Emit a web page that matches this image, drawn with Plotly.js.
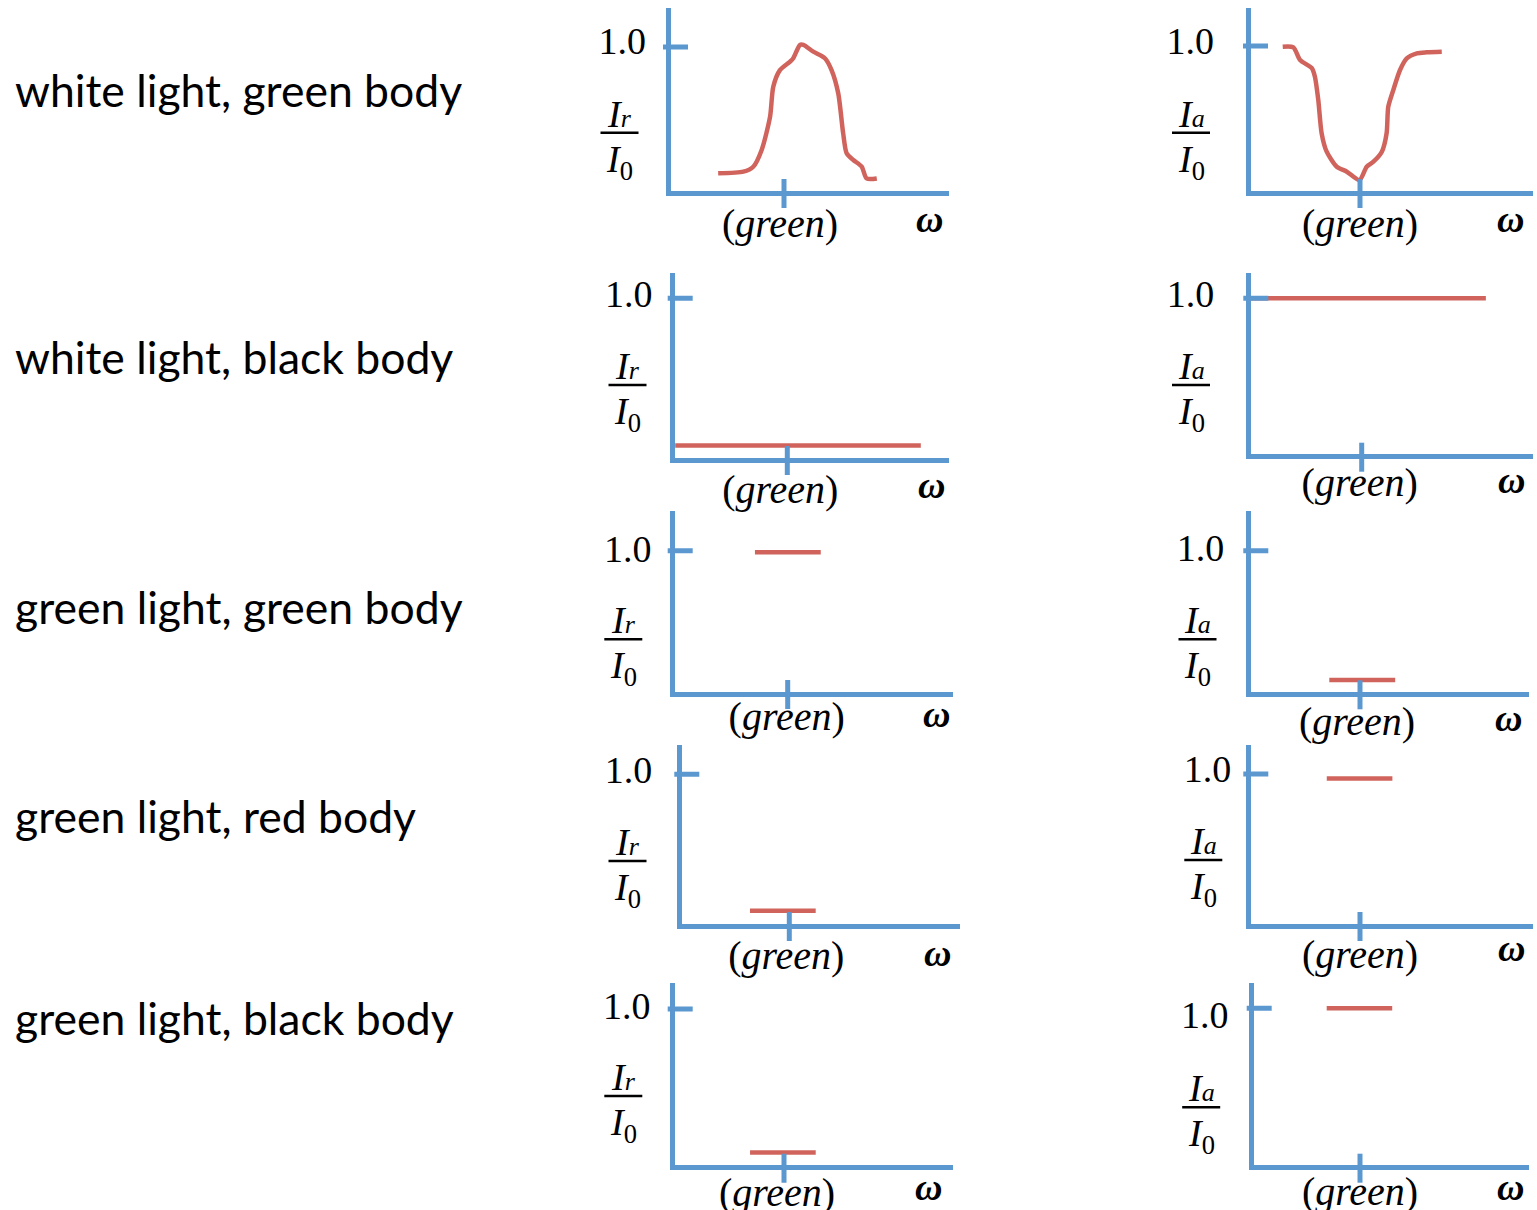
<!DOCTYPE html>
<html>
<head>
<meta charset="utf-8">
<script src="https://cdn.plot.ly/plotly-3.0.1.min.js"></script>
<style>
  html, body { margin: 0; padding: 0; background: #fff; }
  #chart { width: 1537px; height: 1210px; }
</style>
</head>
<body>
<div id="chart"></div>
<script>
// Row captions (one row per light / body combination)
const rowLabels = [
  'white light, green body',
  'white light, black body',
  'green light, green body',
  'green light, red body',
  'green light, black body'
];

// Frequency in arbitrary units; the green band sits at omega = 4
const GREEN = 4;
const greenTickText = '(<i>green</i>)';
const unitTickText = '1.0';

// White light, green body: reflected and absorbed fraction
const wgReflOmega = [1.73, 2.60, 2.94, 3.23, 3.52, 3.63, 3.86, 4.21, 4.32, 4.55, 4.67, 5.01, 5.41, 5.64, 5.87, 6.04, 6.16, 6.39, 6.68, 6.85, 7.20];
const wgReflRatio = [0.135, 0.146, 0.18, 0.295, 0.523, 0.728, 0.842, 0.90, 0.923, 1.014, 1.014, 0.968, 0.923, 0.842, 0.683, 0.409, 0.272, 0.226, 0.18, 0.10, 0.10];
const wgAbsOmega = [1.24, 1.62, 1.86, 2.28, 2.39, 2.51, 2.63, 2.81, 3.17, 3.53, 3.98, 4.24, 4.48, 4.78, 4.95, 5.01, 5.19, 5.43, 5.67, 6.03, 6.38, 6.92];
const wgAbsRatio = [0.995, 0.991, 0.905, 0.849, 0.791, 0.633, 0.406, 0.281, 0.179, 0.145, 0.088, 0.179, 0.213, 0.281, 0.406, 0.587, 0.701, 0.837, 0.916, 0.95, 0.957, 0.961];

// White light, black body
const wbReflOmega = [0.0, 8.66];
const wbReflRatio = [0.09, 0.09];
const wbAbsOmega = [0.04, 8.38];
const wbAbsRatio = [1.0, 1.0];

// Green light, green body
const ggReflOmega = [2.86, 5.15];
const ggReflRatio = [0.99, 0.99];
const ggAbsOmega = [2.90, 5.26];
const ggAbsRatio = [0.10, 0.10];

// Green light, red body
const grReflOmega = [2.57, 4.96];
const grReflRatio = [0.10, 0.10];
const grAbsOmega = [2.81, 5.16];
const grAbsRatio = [0.97, 0.97];

// Green light, black body
const gbReflOmega = [2.78, 5.14];
const gbReflRatio = [0.095, 0.095];
const gbAbsOmega = [2.77, 5.19];
const gbAbsRatio = [1.0, 1.0];

// Panels in reading order: left column = reflected (I_r), right column = absorbed (I_a)
const panels = [
  { omega: wgReflOmega, ratio: wgReflRatio, sub: 'r', smooth: true },
  { omega: wgAbsOmega,  ratio: wgAbsRatio,  sub: 'a', smooth: true },
  { omega: wbReflOmega, ratio: wbReflRatio, sub: 'r' },
  { omega: wbAbsOmega,  ratio: wbAbsRatio,  sub: 'a' },
  { omega: ggReflOmega, ratio: ggReflRatio, sub: 'r' },
  { omega: ggAbsOmega,  ratio: ggAbsRatio,  sub: 'a' },
  { omega: grReflOmega, ratio: grReflRatio, sub: 'r' },
  { omega: grAbsOmega,  ratio: grAbsRatio,  sub: 'a' },
  { omega: gbReflOmega, ratio: gbReflRatio, sub: 'r' },
  { omega: gbAbsOmega,  ratio: gbAbsRatio,  sub: 'a' }
];

// Page layout (pixels): axis corner, axis ends, tick positions and text anchors per panel
const frames = [
  { vx: 668,    top: 8,     hy: 193,    right: 949,    t1y: 47,     gx: 784,    oneR: 645,    oneY: 40.8,  grnX: 780,    grnY: 224,  omX: 930,  omY: 223,  barX: 619.5,  barY: 132.7 },
  { vx: 1248,   top: 8,     hy: 193,    right: 1533,   t1y: 46,     gx: 1360,   oneR: 1213,   oneY: 40.8,  grnX: 1360,   grnY: 224,  omX: 1510, omY: 223,  barX: 1191,   barY: 132.7 },
  { vx: 672.7,  top: 273,   hy: 460,    right: 949,    t1y: 298.3,  gx: 787.3,  oneR: 651.7,  oneY: 293,   grnX: 780,    grnY: 490,  omX: 931.7, omY: 489, barX: 627.5,  barY: 385 },
  { vx: 1248.3, top: 273,   hy: 456.7,  right: 1532.7, t1y: 298.3,  gx: 1361.7, oneR: 1213,   oneY: 293,   grnX: 1360,   grnY: 484,  omX: 1511, omY: 484,  barX: 1191,   barY: 385 },
  { vx: 672.7,  top: 510.7, hy: 694,    right: 952.7,  t1y: 550.7,  gx: 787.7,  oneR: 650.7,  oneY: 549,   grnX: 786.7,  grnY: 717,  omX: 937,  omY: 718,  barX: 623.3,  barY: 639.3 },
  { vx: 1248.3, top: 510.7, hy: 694.3,  right: 1529.3, t1y: 550.7,  gx: 1360,   oneR: 1223,   oneY: 548,   grnX: 1356.7, grnY: 722,  omX: 1508, omY: 722,  barX: 1197.5, barY: 639.3 },
  { vx: 679.3,  top: 745,   hy: 926,    right: 960,    t1y: 774.3,  gx: 789.3,  oneR: 651.7,  oneY: 769,   grnX: 786.7,  grnY: 956,  omX: 937.5, omY: 957, barX: 627.5,  barY: 861 },
  { vx: 1248.3, top: 745,   hy: 926,    right: 1532.7, t1y: 774,    gx: 1360,   oneR: 1230,   oneY: 769,   grnX: 1360,   grnY: 955,  omX: 1511, omY: 952,  barX: 1203.3, barY: 860 },
  { vx: 672.7,  top: 983.3, hy: 1167.7, right: 952.7,  t1y: 1009,   gx: 784,    oneR: 650,    oneY: 1006,  grnX: 776.7,  grnY: 1194, omX: 928,  omY: 1191, barX: 623.3,  barY: 1096 },
  { vx: 1251.7, top: 983.3, hy: 1167.7, right: 1529.3, t1y: 1008.3, gx: 1360,   oneR: 1228,   oneY: 1014,  grnX: 1360,   grnY: 1193, omX: 1510, omY: 1191, barX: 1201.2, barY: 1107.3 }
];
const rowLabelBaseline = [105, 373, 623, 831, 1033];

const W = 1537, H = 1210;
const AXIS_BLUE = '#5b98d0';
const CURVE_RED = '#d0645d';
const LW = 5;          // axis line width
const SERIF = 'Liberation Serif, Times New Roman, serif';
const SANS = 'Lato, Open Sans, sans-serif';
const FS = 38;         // serif text size
const FS_GREEN = 40;   // frequency tick label size
const X_LABEL_BASE = 38;   // label centre below the axis at zero standoff
const Y_LABEL_BASE = 11;   // label right edge left of the axis at zero standoff

const px = v => v / W;
const py = v => 1 - v / H;

const traces = [];
const shapes = [];
const annotations = [];
const layout = {
  width: W, height: H,
  margin: { l: 0, r: 0, t: 0, b: 0, pad: 0 },
  paper_bgcolor: '#ffffff',
  plot_bgcolor: 'rgba(0,0,0,0)',
  showlegend: false,
  font: { family: SERIF, size: FS, color: '#000' },
  shapes: shapes,
  annotations: annotations
};

panels.forEach((p, i) => {
  const f = frames[i];
  const id = i === 0 ? '' : String(i + 1);
  const xs = (f.gx - f.vx) / GREEN;   // pixels per omega unit
  const ys = f.hy - f.t1y;            // pixels per unit of intensity ratio

  layout['xaxis' + id] = {
    domain: [px(f.vx + LW / 2), px(f.right)],
    range: [(LW / 2) / xs, (f.right - f.vx) / xs],
    anchor: 'y' + id,
    showline: true, linecolor: AXIS_BLUE, linewidth: LW,
    showgrid: false, zeroline: false,
    tickmode: 'array', tickvals: [GREEN], ticktext: [greenTickText],
    ticks: '',
    tickfont: { family: SERIF, size: FS_GREEN, color: '#000' },
    ticklabelstandoff: Math.round(f.grnY - f.hy - X_LABEL_BASE),
    ticklabelshift: Math.round(f.grnX - f.gx),
    fixedrange: true
  };
  layout['yaxis' + id] = {
    domain: [py(f.hy - LW / 2), py(f.top)],
    range: [(LW / 2) / ys, (f.hy - f.top) / ys],
    anchor: 'x' + id,
    showline: true, linecolor: AXIS_BLUE, linewidth: LW,
    showgrid: false, zeroline: false,
    tickmode: 'array', tickvals: [1], ticktext: [unitTickText],
    ticks: '',
    tickfont: { family: SERIF, size: FS, color: '#000' },
    ticklabelstandoff: Math.round(f.vx - f.oneR - Y_LABEL_BASE),
    ticklabelshift: Math.round(f.oneY - f.t1y),
    fixedrange: true
  };

  traces.push({
    type: 'scatter', mode: 'lines',
    x: p.omega, y: p.ratio,
    xaxis: 'x' + id, yaxis: 'y' + id,
    line: { color: CURVE_RED, width: 4.5, shape: p.smooth ? 'spline' : 'linear', smoothing: 0.7 },
    hoverinfo: 'skip'
  });

  // tick at intensity ratio 1.0, straddling the vertical axis
  shapes.push({
    type: 'line', xref: 'paper', yref: 'y' + id,
    xsizemode: 'pixel', xanchor: px(f.vx), x0: -5, x1: 20,
    y0: 1, y1: 1,
    line: { color: AXIS_BLUE, width: LW }
  });
  // tick at the green frequency, straddling the horizontal axis
  shapes.push({
    type: 'line', xref: 'x' + id, yref: 'paper',
    x0: GREEN, x1: GREEN,
    ysizemode: 'pixel', yanchor: py(f.hy), y0: -15, y1: 14,
    line: { color: AXIS_BLUE, width: LW }
  });

  // fraction I_r / I_0 or I_a / I_0 as the vertical axis label
  shapes.push({
    type: 'line', xref: 'paper', yref: 'paper',
    x0: px(f.barX - 19), x1: px(f.barX + 19), y0: py(f.barY), y1: py(f.barY),
    line: { color: '#000', width: 2.5 }
  });
  annotations.push({
    xref: 'paper', yref: 'paper', x: px(f.barX), y: py(f.barY - 19),
    xanchor: 'center', yanchor: 'middle', showarrow: false,
    text: '<i>I</i><span style="font-size:26px"><i>' + p.sub + '</i></span>',
    font: { family: SERIF, size: FS, color: '#000' }
  });
  annotations.push({
    xref: 'paper', yref: 'paper', x: px(f.barX), y: py(f.barY + 29),
    xanchor: 'center', yanchor: 'middle', showarrow: false,
    text: '<i>I</i><sub>0</sub>',
    font: { family: SERIF, size: FS, color: '#000' }
  });
  // omega at the end of the frequency axis
  annotations.push({
    xref: 'paper', yref: 'paper', x: px(f.omX), y: py(f.omY - 4),
    xanchor: 'center', yanchor: 'middle', showarrow: false,
    text: '<b><i>ω</i></b>',
    font: { family: SERIF, size: FS, color: '#000' }
  });
});

rowLabels.forEach((t, r) => {
  annotations.push({
    xref: 'paper', yref: 'paper', x: px(13), y: py(rowLabelBaseline[r] - 16),
    xanchor: 'left', yanchor: 'middle', showarrow: false,
    text: t,
    font: { family: SANS, size: 44.5, color: '#000' }
  });
});

Plotly.newPlot('chart', traces, layout, { staticPlot: true, displayModeBar: false });
</script>
</body>
</html>
